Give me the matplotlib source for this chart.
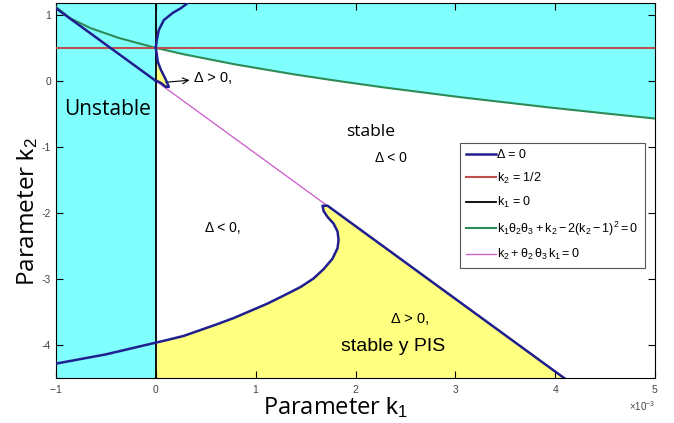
import numpy as np
import matplotlib
matplotlib.use("Agg")
import matplotlib.pyplot as plt

plt.rcParams['font.family'] = ['Liberation Sans', 'DejaVu Sans']
plt.rcParams['mathtext.fontset'] = 'custom'
plt.rcParams['mathtext.rm'] = 'Liberation Sans'
plt.rcParams['mathtext.it'] = 'Liberation Sans:italic'
plt.rcParams['axes.unicode_minus'] = False

# k1 values in units of 1e-3, k2 plain
# Delta = 0, branch above k2 = 1/2
delta_top_k1 = [0.0, 0.01, 0.03, 0.08, 0.17, 0.25, 0.33]
delta_top_k2 = [0.5, 0.62, 0.77, 0.92, 1.03, 1.10, 1.19]
# Delta = 0, small loop under k2 = 1/2
delta_loop_k1 = [0.0, 0.01, 0.02, 0.05, 0.10, 0.13, 0.10, 0.05, 0.01, 0.0]
delta_loop_k2 = [0.5, 0.40, 0.29, 0.17, 0.02, -0.09, -0.09, -0.03, 0.0, 0.0]
# Delta = 0, branch left of k1 = 0
delta_left_k1 = [-1.0, 0.0]
delta_left_k2 = [1.1, 0.0]
# Delta = 0, lower branch (up to the tip, then along the straight line)
delta_low_k1 = [-1.0, -0.5, -0.05, 0.12, 0.28, 0.45, 0.62, 0.78, 0.95, 1.12,
                1.28, 1.45, 1.58, 1.68, 1.77, 1.82, 1.83, 1.82, 1.78, 1.72,
                1.68, 1.67, 1.72, 4.09]
delta_low_k2 = [-4.28, -4.14, -3.98, -3.92, -3.86, -3.77, -3.68, -3.59, -3.48,
                -3.37, -3.25, -3.12, -2.99, -2.85, -2.69, -2.53, -2.41, -2.28,
                -2.16, -2.06, -1.97, -1.89, -1.89, -4.5]
# k1*t2*t3 + k2 - 2(k2-1)^2 = 0
green_k1 = [-1.0, -0.86, -0.655, -0.37, 0.0, 0.29, 0.795, 1.38, 1.82, 2.29,
            3.07, 3.93, 4.55, 5.0]
green_k2 = [1.12, 0.95, 0.8, 0.65, 0.5, 0.4, 0.25, 0.1, 0.0, -0.1,
            -0.25, -0.4, -0.5, -0.57]
# k2 + t2*t3*k1 = 0
pink_k1 = [-1.0, 4.09]
pink_k2 = [1.1, -4.5]

k2_half = 0.5
xlim = (-1.0, 5.0)
ylim = (-4.5, 1.18)

cyan = '#80ffff'
yellow = '#ffff80'
c_delta = '#1f1f8f'
c_red = '#c0504d'
c_green = '#2e8b57'
c_pink = '#cc66cc'

s = 1e-3
fig = plt.figure(figsize=(6.74, 4.23), dpi=100)
ax = fig.add_axes([0.083, 0.106, 0.889, 0.887])

# unstable region: k1 < 0 and above the green curve
ax.fill_between([xlim[0] * s, 0], ylim[0], ylim[1], color=cyan, lw=0)
gk1 = np.array(green_k1)
gk2 = np.array(green_k2)
m = gk1 >= 0
ax.fill_between(gk1[m] * s, gk2[m], ylim[1], color=cyan, lw=0)

# stable + PIS regions
lk1 = np.array(delta_low_k1)
lk2 = np.array(delta_low_k2)
m = lk1 >= 0
ax.fill(np.r_[0, 0, lk1[m]] * s, np.r_[ylim[0], -3.99, lk2[m]], color=yellow, lw=0)
ax.fill(np.array(delta_loop_k1[2:]) * s, delta_loop_k2[2:], color=yellow, lw=0)

ax.plot(np.array(pink_k1) * s, pink_k2, color=c_pink, lw=1.0,
        label=r'$\mathrm{k_2 + \theta_2\,\theta_3\,k_1 = 0}$', zorder=3)
ax.plot(np.array(green_k1) * s, green_k2, color=c_green, lw=1.5,
        label=r'$\mathrm{k_1\theta_2\theta_3 + k_2 - 2(k_2 - 1)^2 = 0}$', zorder=3)
ax.axvline(0, color='black', lw=1.3, label=r'$\mathrm{k_1}$ = 0', zorder=3)
ax.axhline(k2_half, color=c_red, lw=1.5, label=r'$\mathrm{k_2}$ = 1/2', zorder=3)
ax.plot(lk1 * s, lk2, color=c_delta, lw=1.8, label='Δ = 0', zorder=4)
ax.plot(np.array(delta_top_k1) * s, delta_top_k2, color=c_delta, lw=1.8, zorder=4)
ax.plot(np.array(delta_loop_k1) * s, delta_loop_k2, color=c_delta, lw=1.8, zorder=4)
ax.plot(np.array(delta_left_k1) * s, delta_left_k2, color=c_delta, lw=1.8, zorder=4)

ax.set_xlim(xlim[0] * s, xlim[1] * s)
ax.set_ylim(*ylim)
ax.set_xticks(np.arange(-1, 6) * s)
ax.set_yticks([-4, -3, -2, -1, 0, 1])
ax.ticklabel_format(axis='x', style='sci', scilimits=(0, 0), useMathText=True)
ax.xaxis.get_offset_text().set_fontsize(7)
ax.xaxis.get_offset_text().set_color('#444444')
ax.tick_params(direction='in', top=True, right=True, labelsize=7.5,
               labelcolor='#444444', length=5, width=0.8)

label_font = ['Open Sans', 'DejaVu Sans']
ax.set_xlabel(r'Parameter $\mathrm{k_1}$', fontsize=17, family=label_font)
ax.xaxis.set_label_coords(0.466, -0.045, transform=ax.transAxes)
ax.xaxis.label.set_va('top')
ax.set_ylabel(r'Parameter $\mathrm{k_2}$', fontsize=17.5, family=label_font)
ax.yaxis.set_label_coords(-0.027, 0.443, transform=ax.transAxes)

ax.text(-0.48 * s, -0.44, 'Unstable', fontsize=15, ha='center', va='center',
        family=label_font)
ax.text(2.15 * s, -0.78, 'stable', fontsize=12.5, ha='center', va='center',
        family=label_font)
ax.text(2.35 * s, -1.16, 'Δ < 0', fontsize=10, ha='center', va='center')
ax.text(0.67 * s, -2.22, 'Δ < 0,', fontsize=10, ha='center', va='center')
ax.text(2.55 * s, -3.6, 'Δ > 0,', fontsize=10.5, ha='center', va='center')
ax.text(2.38 * s, -4.02, 'stable y PIS', fontsize=14, ha='center', va='center')
ax.annotate('Δ > 0,', xy=(0.1 * s, -0.02), xytext=(0.38 * s, 0.04),
            fontsize=10.5, va='center', ha='left',
            arrowprops=dict(arrowstyle='<-', color='black', lw=0.8,
                            shrinkA=1, shrinkB=0))

h, l = ax.get_legend_handles_labels()
order = [4, 3, 2, 1, 0]
leg = ax.legend([h[i] for i in order], [l[i] for i in order],
                loc='upper right', bbox_to_anchor=(0.983, 0.627),
                fontsize=9, handlelength=2.4, handletextpad=0.1,
                labelspacing=0.75, fancybox=False, framealpha=1,
                edgecolor='#555555', borderpad=0.5, borderaxespad=0)
leg.get_frame().set_linewidth(0.8)

fig.savefig('out.png', dpi=100)
